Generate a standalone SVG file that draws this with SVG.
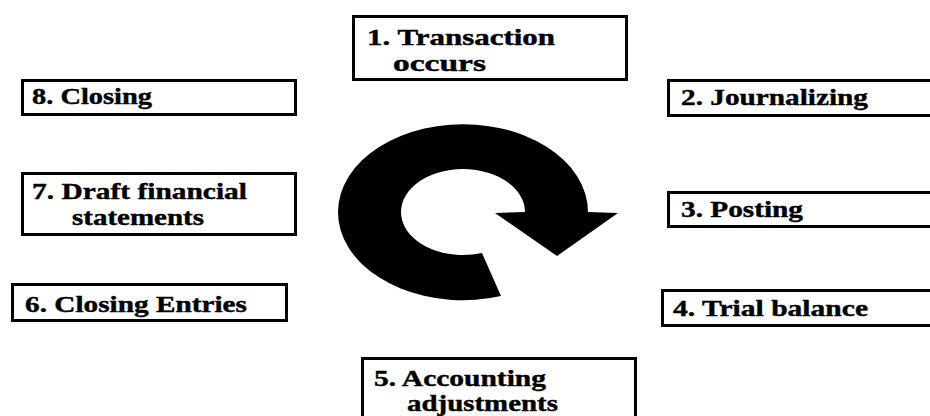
<svg xmlns="http://www.w3.org/2000/svg" width="930" height="416" viewBox="0 0 930 416">
<style>
.box{fill:#fff;stroke:#000;stroke-width:3}
text{font-family:'Liberation Serif','Times New Roman',serif;font-weight:700;font-size:23px;fill:#000;stroke:#000;stroke-width:0.4}
</style>
<rect width="930" height="416" fill="#fff"/>
<g id="connectors">
<path d="M501,296 A125,88 0 1 1 588,212 L618,213 L557,256 L495,213 L525,212 A62,43 0 1 0 482,253 Z" fill="#000"/>
</g>
<g id="n1"><rect class="box" x="353.5" y="16.5" width="273" height="63"/>
<text x="367" y="45" textLength="188" lengthAdjust="spacingAndGlyphs">1. Transaction</text>
<text x="393" y="71" textLength="93" lengthAdjust="spacingAndGlyphs">occurs</text></g>
<g id="n2"><rect class="box" x="668.5" y="80.5" width="300" height="35"/>
<text x="681" y="105" textLength="187" lengthAdjust="spacingAndGlyphs">2. Journalizing</text></g>
<g id="n3"><rect class="box" x="668.5" y="192.5" width="300" height="34"/>
<text x="681" y="217" textLength="122" lengthAdjust="spacingAndGlyphs">3. Posting</text></g>
<g id="n4"><rect class="box" x="662.5" y="290.5" width="300" height="35"/>
<text x="673" y="316" textLength="195" lengthAdjust="spacingAndGlyphs">4. Trial balance</text></g>
<g id="n5"><rect class="box" x="362.5" y="358.5" width="273" height="100"/>
<text x="374" y="386" textLength="172" lengthAdjust="spacingAndGlyphs">5. Accounting</text>
<text x="407" y="411" textLength="151" lengthAdjust="spacingAndGlyphs">adjustments</text></g>
<g id="n6"><rect class="box" x="12.5" y="284.5" width="274" height="36"/>
<text x="25" y="312" textLength="222" lengthAdjust="spacingAndGlyphs">6. Closing Entries</text></g>
<g id="n7"><rect class="box" x="22.5" y="173.5" width="273" height="61"/>
<text x="32" y="199" textLength="215" lengthAdjust="spacingAndGlyphs">7. Draft financial</text>
<text x="72" y="225" textLength="132" lengthAdjust="spacingAndGlyphs">statements</text></g>
<g id="n8"><rect class="box" x="22.5" y="80.5" width="273" height="34"/>
<text x="32" y="104" textLength="120" lengthAdjust="spacingAndGlyphs">8. Closing</text></g>
</svg>
